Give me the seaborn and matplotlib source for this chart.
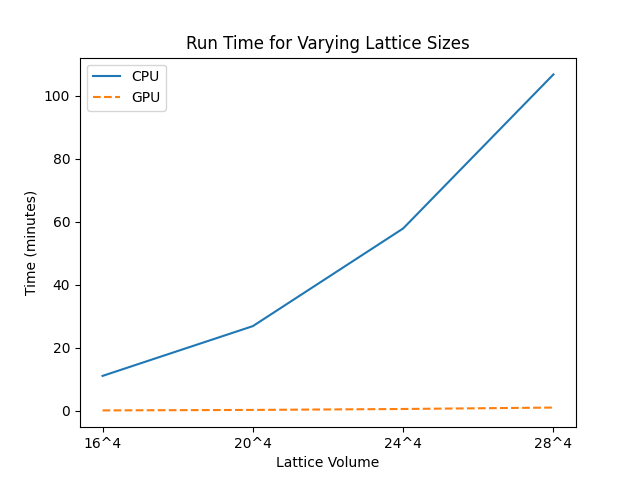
import matplotlib
matplotlib.use("Agg")
import matplotlib.pyplot as plt
import seaborn as sns
import pandas as pd

lattice = ["16^4", "20^4", "24^4", "28^4"]
cpu_minutes = [11.1, 26.9, 57.9, 106.8]
gpu_minutes = [0.15, 0.3, 0.6, 1.05]

df = pd.DataFrame({
    "Lattice Volume": lattice * 2,
    "Time (minutes)": cpu_minutes + gpu_minutes,
    "Device": ["CPU"] * 4 + ["GPU"] * 4,
})

fig, ax = plt.subplots(figsize=(6.4, 4.8), dpi=100)
sns.lineplot(data=df, x="Lattice Volume", y="Time (minutes)", hue="Device",
             style="Device", palette=["#1f77b4", "#ff7f0e"],
             dashes={"CPU": "", "GPU": (3.7, 1.6)}, ax=ax, sort=False)
ax.set_title("Run Time for Varying Lattice Sizes")
ax.legend(title=None, loc="upper left")
fig.savefig("out.png", dpi=100)
